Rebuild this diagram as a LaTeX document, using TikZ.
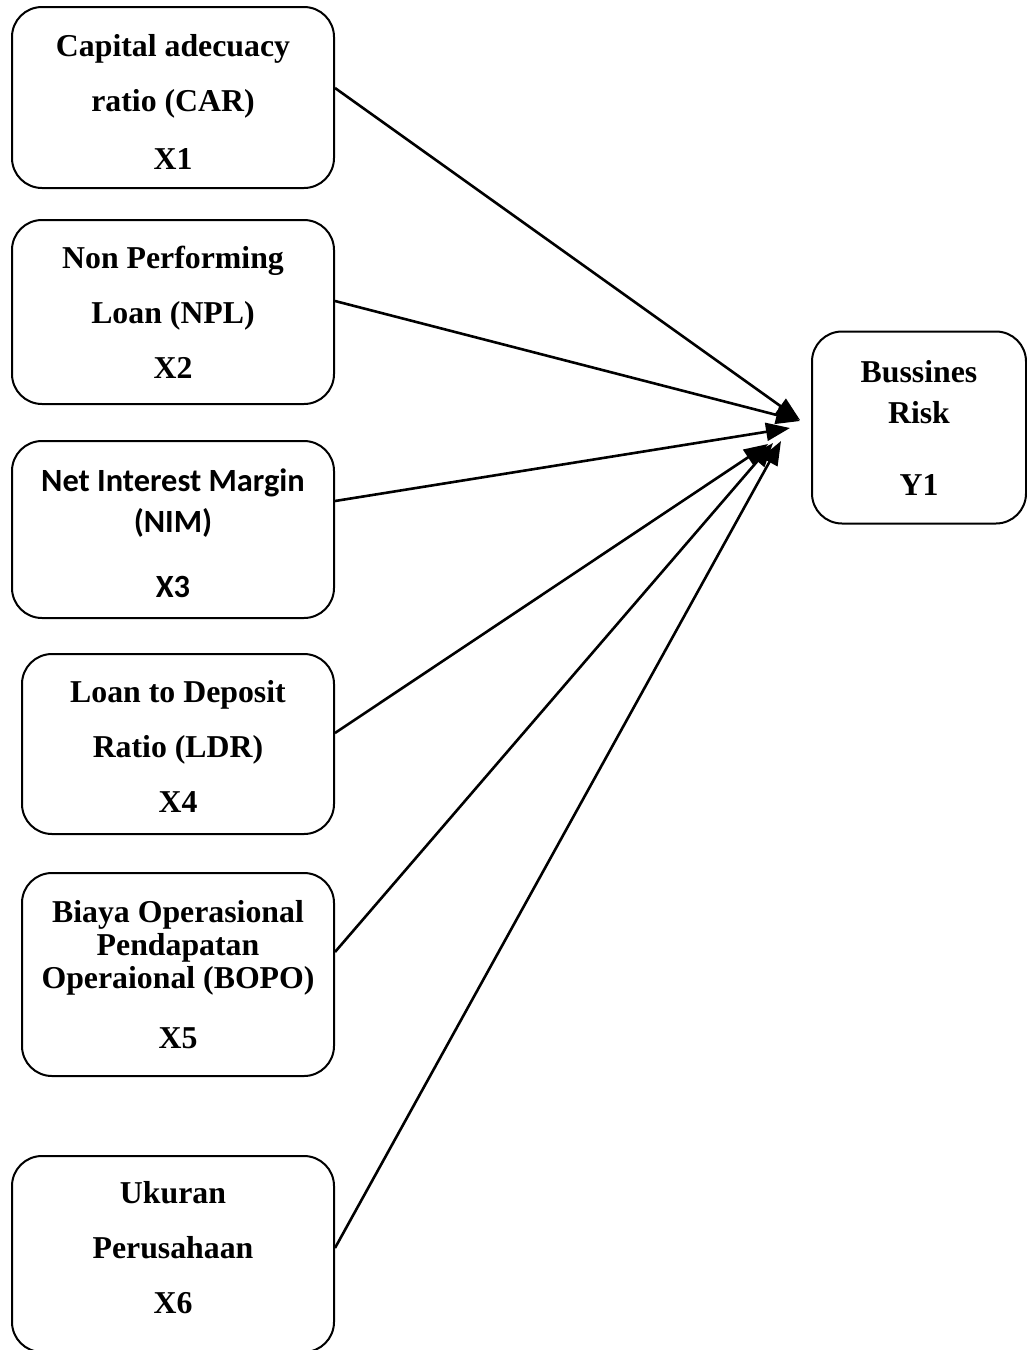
\documentclass[tikz,border=0pt]{standalone}
\usepackage{fontspec}
\setmainfont{Liberation Serif}
\newfontfamily\calibrifont{Carlito}
\usetikzlibrary{arrows.meta}

\tikzstyle{var}=[rectangle, rounded corners=15pt, draw=black, line width=1pt, align=center, inner sep=0pt, font=\fontsize{15.9}{27.5}\selectfont\bfseries]
\tikzstyle{arrow}=[line width=1.3pt, ->, >={Triangle[length=12pt,width=9pt]}]

\begin{document}
\begin{tikzpicture}[x=0.5pt, y=-0.5pt]
\useasboundingbox (0,0) rectangle (1027,1350);

\node(x1)[var, minimum width=161pt, minimum height=90.5pt] at (173,97.5){\rule{0pt}{15pt}Capital adecuacy\\ratio (CAR)\\[1.5pt]X1};
\node(x2)[var, minimum width=161pt, minimum height=92pt] at (173,312){Non Performing\\Loan (NPL)\\X2};
\node(x3)[var, minimum width=161pt, minimum height=88.5pt, font=\fontsize{16.2}{20.5}\selectfont\calibrifont\bfseries] at (173,529.5){\rule{0pt}{15.5pt}Net Interest Margin\\(NIM)\\[12pt]X3};
\node(x4)[var, minimum width=156pt, minimum height=90pt] at (178,744){\rule{0pt}{13.5pt}Loan to Deposit\\Ratio (LDR)\\X4};
\node(x5)[var, minimum width=156pt, minimum height=101.5pt, font=\fontsize{15.9}{16.5}\selectfont\bfseries] at (178,974.5){Biaya Operasional\\Pendapatan\\Operaional (BOPO)\\[13.5pt]X5};
\node(x6)[var, minimum width=161pt, minimum height=98pt] at (173,1254){Ukuran\\Perusahaan\\X6\rule[-7pt]{0pt}{1pt}};
\node(y1)[var, minimum width=107pt, minimum height=96pt, font=\fontsize{15.9}{20.5}\selectfont\bfseries] at (919,427.5){Bussines\\Risk\\[15.5pt]Y1};

\coordinate(t1) at (800,420);
\coordinate(t2) at (800,421);
\coordinate(t3) at (790,428);
\coordinate(t4) at (768,444);
\coordinate(t5) at (773,443);
\coordinate(t6) at (781,441);

\draw[arrow]([yshift=4.75pt]x1.east)--(t1);
\draw[arrow]([yshift=5.5pt]x2.east)--(t2);
\draw[arrow]([yshift=14.25pt]x3.east)--(t3);
\draw[arrow]([yshift=5.5pt]x4.east)--(t4);
\draw[arrow]([yshift=11.25pt]x5.east)--(t5);
\draw[arrow]([yshift=3pt]x6.east)--(t6);

\end{tikzpicture}
\end{document}
